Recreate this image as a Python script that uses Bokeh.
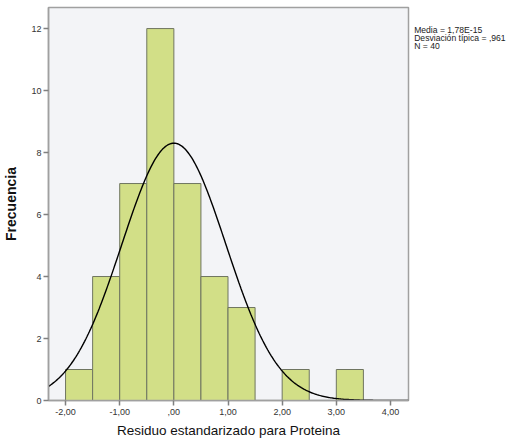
import numpy as np
from bokeh.plotting import figure
from bokeh.layouts import row
from bokeh.models import FixedTicker, Range1d
from bokeh.embed import file_html
from bokeh.resources import INLINE

# Data
bin_left = [-2.0, -1.5, -1.0, -0.5, 0.0, 0.5, 1.0, 1.5, 2.0, 2.5, 3.0]
bin_right = [-1.5, -1.0, -0.5, 0.0, 0.5, 1.0, 1.5, 2.0, 2.5, 3.0, 3.5]
counts = [1, 4, 7, 12, 7, 4, 3, 0, 1, 0, 1]
x_ticks = [-2, -1, 0, 1, 2, 3, 4]
x_tick_labels = ["-2,00", "-1,00", ",00", "1,00", "2,00", "3,00", "4,00"]
y_ticks = [0, 2, 4, 6, 8, 10, 12]
mean_val = 1.78e-15
sd_val = 0.961
n_val = 40
bin_width = 0.5
stats_lines = ["Media = 1,78E-15", "Desviación típica = ,961", "N = 40"]

FONT = "Liberation Sans"
H = 440
TOP = 7
BOTTOM = 40
yr = Range1d(0, 12.68)

p = figure(width=410, height=H, output_backend="svg", toolbar_location=None,
           x_range=Range1d(-2.315, 4.333), y_range=yr,
           min_border_left=41, min_border_right=2, min_border_top=TOP,
           min_border_bottom=BOTTOM)
p.background_fill_color = "#F3F4F7"
p.border_fill_color = "white"
p.outline_line_color = "#A0A0A0"
p.outline_line_width = 1.5
p.grid.visible = False

bl = [b for b, c in zip(bin_left, counts) if c > 0]
br = [b for b, c in zip(bin_right, counts) if c > 0]
cc = [c for c in counts if c > 0]
p.quad(left=bl, right=br, bottom=0, top=cc, fill_color="#D2DF87",
       line_color="#6F7560", line_width=1)

xs = np.linspace(-2.315, 4.333, 300)
ys = n_val * bin_width * np.exp(-0.5 * ((xs - mean_val) / sd_val) ** 2) / (sd_val * np.sqrt(2 * np.pi))
p.line(xs, ys, line_color="black", line_width=1.4)

p.xaxis.ticker = FixedTicker(ticks=x_ticks)
p.xaxis.major_label_overrides = {t: l for t, l in zip(x_ticks, x_tick_labels)}
p.yaxis.ticker = FixedTicker(ticks=y_ticks)
for ax in (p.xaxis, p.yaxis):
    ax.axis_line_color = "#A0A0A0"
    ax.axis_line_width = 1.5
    ax.major_tick_line_color = "#808080"
    ax.major_tick_line_width = 1.5
    ax.major_tick_in = 0
    ax.major_tick_out = 5
    ax.minor_tick_line_color = None
    ax.major_label_text_font = FONT
    ax.major_label_text_font_size = "9px"
    ax.major_label_text_color = "#333333"
    ax.axis_label_text_font = FONT
    ax.axis_label_text_color = "#111111"
p.xaxis.major_label_standoff = 3
p.yaxis.major_label_standoff = 2
p.xaxis.axis_label = "Residuo estandarizado para Proteina"
p.xaxis.axis_label_text_font_size = "13.5px"
p.xaxis.axis_label_text_font_style = "normal"
p.xaxis.axis_label_standoff = 5
p.yaxis.axis_label = "Frecuencia"
p.yaxis.axis_label_text_font_size = "14px"
p.yaxis.axis_label_text_font_style = "bold"
p.yaxis.axis_label_standoff = 9

# side panel with the statistics text
p2 = figure(width=104, height=H, output_backend="svg", toolbar_location=None,
            x_range=Range1d(0, 1), y_range=yr,
            min_border_left=0, min_border_right=0, min_border_top=TOP,
            min_border_bottom=BOTTOM)
p2.axis.visible = False
p2.grid.visible = False
p2.outline_line_color = None
p2.background_fill_color = "white"
ys_lab = [11.95, 11.69, 11.43]
xs_lab = [0.035, 0.035, 0.035]
p2.text(x=xs_lab, y=ys_lab, text=stats_lines, text_font_size="8.6px",
        text_color="#222222", text_baseline="middle", text_font={"value": FONT})

layout = row(p, p2, spacing=0)
open("out.html", "w").write(file_html(layout, INLINE))
